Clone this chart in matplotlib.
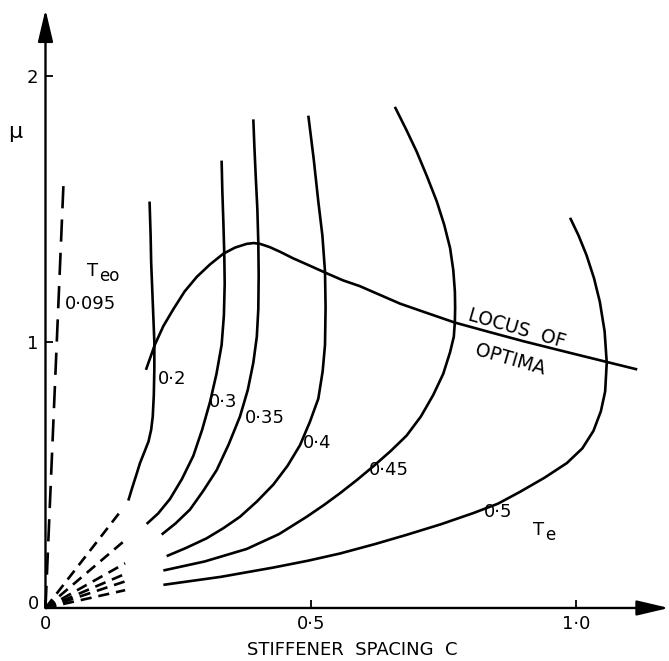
import matplotlib
matplotlib.use("Agg")
import matplotlib.pyplot as plt

plt.rcParams['font.family'] = ['DejaVu Sans']
plt.rcParams['lines.scale_dashes'] = False

# ---- data (c = stiffener spacing, mu) ----
te_labels = ['0·2', '0·3', '0·35', '0·4', '0·45', '0·5']

te02_c = [0.156, 0.163, 0.171, 0.178, 0.186, 0.194, 0.199, 0.202, 0.204, 0.205,
          0.205, 0.203, 0.201, 0.199, 0.198, 0.196]
te02_mu = [0.404, 0.45, 0.50, 0.545, 0.585, 0.626, 0.67, 0.72, 0.80, 0.90,
           1.0, 1.10, 1.20, 1.30, 1.40, 1.528]

te03_c = [0.1905, 0.212, 0.2345, 0.257, 0.2784, 0.295, 0.3098, 0.322, 0.3317,
          0.336, 0.3375, 0.3367, 0.335, 0.333, 0.3317]
te03_mu = [0.316, 0.355, 0.41, 0.485, 0.572, 0.67, 0.774, 0.88, 0.989,
           1.10, 1.22, 1.332, 1.45, 1.57, 1.682]

te035_c = [0.2188, 0.245, 0.2721, 0.297, 0.3223, 0.345, 0.3663, 0.381, 0.3914,
           0.398, 0.4008, 0.4015, 0.4008, 0.399, 0.396, 0.3935, 0.3914]
te035_mu = [0.276, 0.318, 0.37, 0.44, 0.518, 0.615, 0.72, 0.82, 0.922,
            1.02, 1.124, 1.25, 1.373, 1.50, 1.62, 1.73, 1.837]

te04_c = [0.2282, 0.265, 0.3035, 0.335, 0.3663, 0.398, 0.4291, 0.456, 0.4793,
          0.498, 0.5138, 0.522, 0.5264, 0.5275, 0.5264, 0.5215, 0.5138, 0.505, 0.495]
te04_mu = [0.195, 0.226, 0.262, 0.30, 0.343, 0.40, 0.464, 0.535, 0.612,
           0.70, 0.787, 0.89, 0.989, 1.13, 1.265, 1.40, 1.528, 1.69, 1.851]

te045_c = [0.222, 0.30, 0.379, 0.44, 0.492, 0.525, 0.555, 0.587, 0.617, 0.650,
           0.680, 0.707, 0.730, 0.749, 0.762, 0.769, 0.771, 0.7715, 0.771, 0.768,
           0.762, 0.751, 0.737, 0.719, 0.699, 0.679, 0.658]
te045_mu = [0.141, 0.175, 0.222, 0.278, 0.343, 0.388, 0.432, 0.482, 0.532, 0.59,
            0.648, 0.72, 0.80, 0.88, 0.962, 1.02, 1.077, 1.13, 1.19, 1.27,
            1.353, 1.44, 1.528, 1.62, 1.716, 1.80, 1.884]

te05_c = [0.222, 0.33, 0.429, 0.495, 0.555, 0.62, 0.680, 0.745, 0.806, 0.852,
          0.894, 0.940, 0.982, 1.011, 1.032, 1.046, 1.054, 1.057, 1.053, 1.044,
          1.033, 1.019, 1.004, 0.988]
te05_mu = [0.087, 0.117, 0.152, 0.178, 0.205, 0.24, 0.275, 0.315, 0.357, 0.392,
           0.437, 0.49, 0.545, 0.60, 0.666, 0.74, 0.814, 0.922, 1.04, 1.151,
           1.24, 1.326, 1.40, 1.467]

# dashed extensions towards the origin (end points)
dash_end_c = [0.142, 0.15, 0.15, 0.15, 0.15, 0.15]
dash_end_mu = [0.365, 0.255, 0.168, 0.128, 0.10, 0.067]

# Teo = 0.095 dashed line
teo_c = [0.0, 0.034]
teo_mu = [0.0, 1.6]

# locus of optima
locus_c = [0.19, 0.206, 0.222, 0.241, 0.262, 0.285, 0.31, 0.335, 0.357, 0.379,
           0.392, 0.404, 0.422, 0.442, 0.466, 0.492, 0.530, 0.56, 0.592, 0.63,
           0.668, 0.72, 0.771, 0.835, 0.90, 0.98, 1.057, 1.112]
locus_mu = [0.90, 0.99, 1.06, 1.124, 1.19, 1.245, 1.292, 1.332, 1.355, 1.369,
            1.372, 1.369, 1.357, 1.339, 1.315, 1.292, 1.258, 1.232, 1.21, 1.177,
            1.144, 1.108, 1.073, 1.038, 1.003, 0.963, 0.925, 0.898]

# label anchor positions (data units)
label_c = [0.2376, 0.335, 0.4133, 0.5107, 0.646, 0.853]
label_mu = [0.861, 0.774, 0.713, 0.619, 0.52, 0.36]

x_ticks = [0, 0.5, 1.0]
x_ticklabels = ['0', '0·5', '1·0']
y_ticks = [1, 2]
y_ticklabels = ['1', '2']

# ---- figure ----
fig = plt.figure(figsize=(6.69, 6.61), dpi=100)
ax = fig.add_axes([0.068, 0.0802, 0.9318, 0.9054])
ax.set_xlim(0, 1.174)
ax.set_ylim(0, 2.25)
for s in ax.spines.values():
    s.set_visible(False)

LW = 1.9
curves = [(te02_c, te02_mu), (te03_c, te03_mu), (te035_c, te035_mu),
          (te04_c, te04_mu), (te045_c, te045_mu), (te05_c, te05_mu)]
for (cc, mm) in curves:
    ax.plot(cc, mm, color='black', lw=LW, solid_joinstyle='round',
            solid_capstyle='butt', clip_on=False)

for ec, em in zip(dash_end_c, dash_end_mu):
    ax.plot([0, ec], [0, em], color='black', lw=LW, dashes=(8, 5),
            dash_capstyle='butt', clip_on=False)

ax.plot(teo_c, teo_mu, color='black', lw=LW, dashes=(16, 8), clip_on=False)

ax.plot(locus_c, locus_mu, color='black', lw=LW, solid_joinstyle='round',
        clip_on=False)

FS = 13
for t, lc, lm in zip(te_labels, label_c, label_mu):
    ax.text(lc, lm, t, fontsize=FS, ha='center', va='center')

# T_eo and T_e labels
ax.text(0.078, 1.268, 'T', fontsize=FS, ha='left', va='center')
ax.annotate('eo', xy=(0.078, 1.268), xytext=(8.5, -4), textcoords='offset points',
            fontsize=12, ha='left', va='center')
ax.text(0.084, 1.144, '0·095', fontsize=FS, ha='center', va='center')
ax.text(0.918, 0.295, 'T', fontsize=FS, ha='left', va='center')
ax.annotate('e', xy=(0.918, 0.295), xytext=(8.5, -4), textcoords='offset points',
            fontsize=12, ha='left', va='center')

ax.text(0.887, 1.05, 'LOCUS  OF', fontsize=13.5, ha='center', va='center',
        rotation=-16, rotation_mode='anchor')
ax.text(0.875, 0.935, 'OPTIMA', fontsize=13.5, ha='center', va='center',
        rotation=-16, rotation_mode='anchor')

# axes with arrows
arrow_kw = dict(arrowstyle='-|>,head_length=1.4,head_width=0.33', lw=1.7,
                color='black', mutation_scale=14, shrinkA=0, shrinkB=0)
ax.annotate('', xy=(1.174, 0), xytext=(0, 0), arrowprops=arrow_kw,
            annotation_clip=False)
ax.annotate('', xy=(0, 2.25), xytext=(0, 0), arrowprops=arrow_kw,
            annotation_clip=False)

ax.set_xticks(x_ticks)
ax.set_xticklabels(x_ticklabels, fontsize=FS)
ax.set_yticks(y_ticks)
ax.set_yticklabels(y_ticklabels, fontsize=FS)
ax.tick_params(direction='in', length=6, width=1.3, pad=5)

ax.text(-0.0235, 0.015, '0', fontsize=FS, ha='center', va='center')
ax.text(-0.057, 1.79, 'μ', fontsize=16, ha='center', va='center')
ax.text(0.577, -0.158, 'STIFFENER  SPACING  C', fontsize=13, ha='center',
        va='center')

fig.savefig('out.png', dpi=100)
